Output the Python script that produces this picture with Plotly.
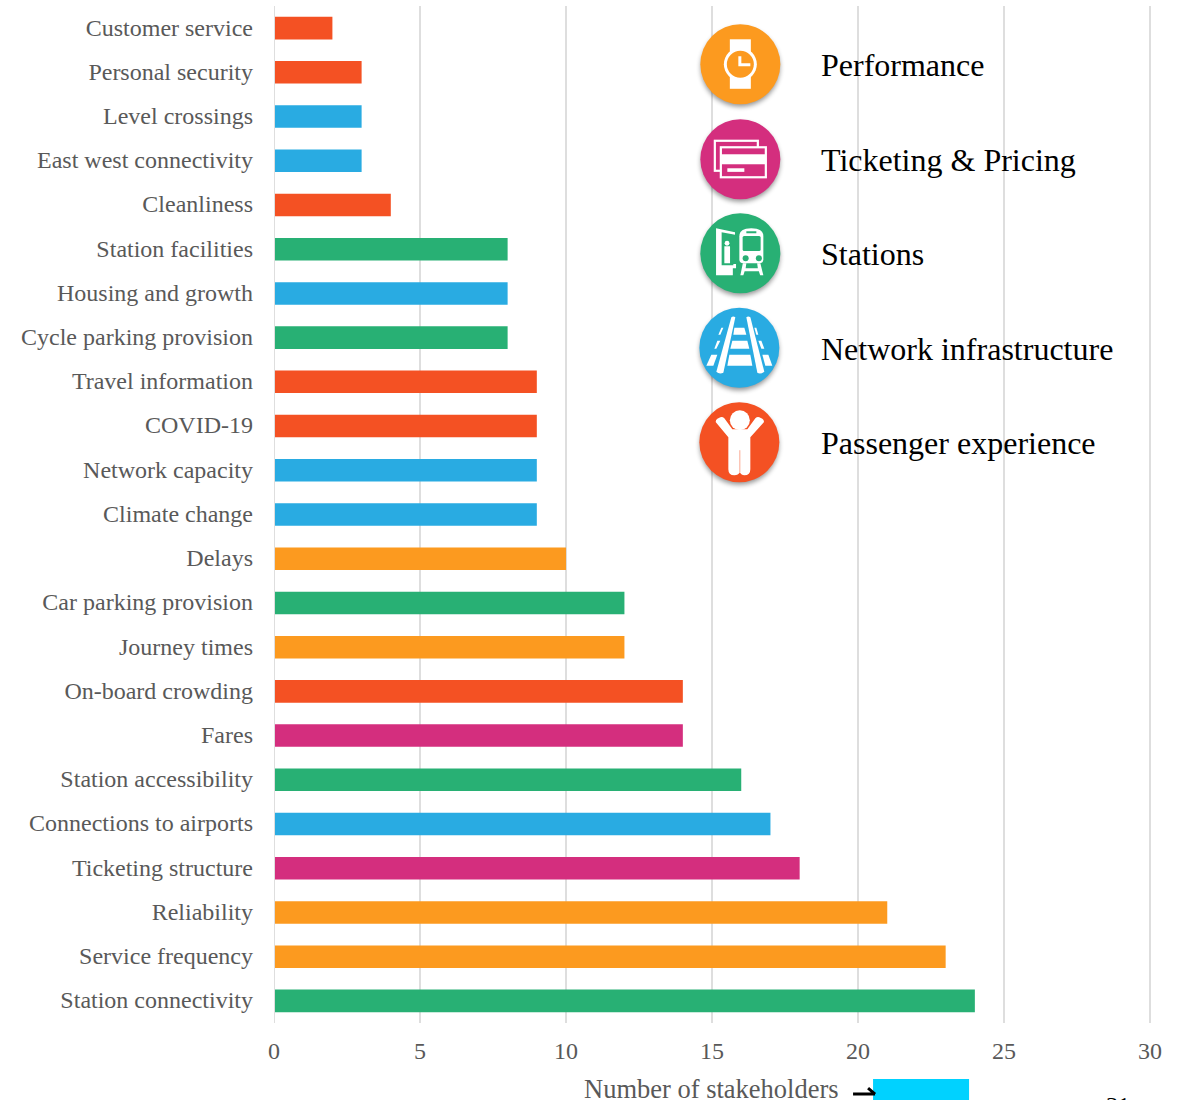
import base64
import plotly.graph_objects as go

categories = ["Customer service","Personal security","Level crossings","East west connectivity","Cleanliness",
    "Station facilities","Housing and growth","Cycle parking provision","Travel information","COVID-19",
    "Network capacity","Climate change","Delays","Car parking provision","Journey times","On-board crowding",
    "Fares","Station accessibility","Connections to airports","Ticketing structure","Reliability",
    "Service frequency","Station connectivity"]
values = [2,3,3,3,4,8,8,8,9,9,9,9,10,12,12,14,14,16,17,18,21,23,24]
groups = ["Passenger experience","Passenger experience","Network infrastructure","Network infrastructure",
    "Passenger experience","Stations","Network infrastructure","Stations","Passenger experience",
    "Passenger experience","Network infrastructure","Network infrastructure","Performance","Stations",
    "Performance","Passenger experience","Ticketing & Pricing","Stations","Network infrastructure",
    "Ticketing & Pricing","Performance","Performance","Stations"]
palette = {"Performance":"#FC9A1F","Ticketing & Pricing":"#D42E7E","Stations":"#28B074",
    "Network infrastructure":"#29ABE2","Passenger experience":"#F45123"}
legend_names = list(palette)
x_ticks = [0,5,10,15,20,25,30]
x_max = 30.1

W, H = 1183, 1100
L, R, T, B = 274, 274 + 29.2 * x_max, 5.7, 1022.9
SERIF = "Liberation Serif, Times New Roman, serif"
GREY = "#595959"
GRID = "#DEDEDE"

def px(x): return (x-L)/(R-L)
def py(y): return (B-y)/(B-T)

glyphs = {
"Performance": '''<rect x="-10.5" y="-25" width="21" height="49.5" fill="#fff"/><circle r="16.5" fill="#fff"/><circle r="13.5" fill="#FC9A1F"/>
<path d="M-2-8V2H10V-1H1V-8Z" fill="#fff"/>''',
"Ticketing & Pricing": '''<rect x="-25.5" y="-18.5" width="43" height="30" fill="none" stroke="#fff" stroke-width="2.2"/>
<rect x="-19.5" y="-12" width="45" height="30" fill="#D42E7E" stroke="#fff" stroke-width="2.2"/>
<rect x="-19.5" y="-5" width="45" height="10" fill="#fff"/><rect x="-13" y="9" width="17" height="3.6" fill="#fff"/>''',
"Stations": '''<path d="M-24.3-25L-5.3-21V-18.5L-18.7-21V12H-7V10.7H-4.3V15H-7.5V22H-24.3Z" fill="#fff"/>
<circle cx="-13.3" cy="-10" r="2.4" fill="#fff"/><path d="M-16-7H-10.3V10H-16Z" fill="#fff"/>
<path d="M-1-17Q-1-25 11-25Q23-25 23-17V6Q23 10 19 10H3Q-1 10-1 6Z" fill="#fff"/>
<rect x="2.3" y="-17.3" width="18" height="15" rx="1.5" fill="#28B074"/><rect x="6" y="-22" width="10" height="2" fill="#28B074"/>
<circle cx="5.3" cy="5" r="3" fill="#28B074"/><circle cx="18.5" cy="5" r="3" fill="#28B074"/>
<path d="M2.5 10H6L5.3 15H17.5L16.8 10H20L23 22H19.8L18.5 18H4.3L3 22H0Z" fill="#fff"/>''',
"Network infrastructure": '''<path d="M-8-30.5Q-6-32-4-30.5L-16 25Q-20 27-23 24Z" fill="#fff"/><path d="M7-30.5Q9-32 11-30.5L25 24Q21 27 18 25Z" fill="#fff"/>
<path d="M-5-20H5L7-13H-6Z" fill="#fff"/><path d="M-7-7H8L10 1H-9Z" fill="#fff"/><path d="M-10 7H11L13 18H-12Z" fill="#fff"/>
<path d="M-18-20L-16-20L-19-13H-21Z" fill="#fff"/><path d="M-22-7H-19L-23 1H-25Z" fill="#fff"/><path d="M-28 7H-22L-26 18H-33Z" fill="#fff"/>
<path d="M15-20L17-20L19-13H17Z" fill="#fff"/><path d="M19-7H22L25 1H22Z" fill="#fff"/><path d="M23 7H29L33 18H26Z" fill="#fff"/>''',
"Passenger experience": '''<circle cx="0.5" cy="-22" r="10" fill="#fff"/><path d="M-23.5-20Q-24-22-22-23.5L-19-25Q-17-26-15-24L-7-13H8L16-24Q18-26 20-25L23-23.5Q25-22 24.5-20L11-5V27Q11 33 5 33Q2 33 0.5 30Q-1 33-5 33Q-11 33-11 27V-5Z" fill="#fff"/>
<path d="M0.5 8V30" stroke="#F45123" stroke-width=".5"/>''',
}
icon_x = [740.3,740.3,740.3,739.3,739.3]
icon_y = [64,159,253,347.5,442]
label_x = [818.5,818.5,818.5,818.5,818.5]
label_y = [65,160,253.5,349,443]
images, annotations = [], []
for n, ix, iy, lx, ly in zip(legend_names, icon_x, icon_y, label_x, label_y):
    svg = f'''<svg xmlns="http://www.w3.org/2000/svg" width="100" height="100" viewBox="-50 -50 100 100">
<defs><filter id="s" x="-30%" y="-30%" width="160%" height="160%"><feGaussianBlur stdDeviation="2.4"/></filter></defs>
<circle cx="0" cy="3" r="39.5" fill="#000" opacity=".42" filter="url(#s)"/><circle r="40" fill="{palette[n]}"/>{glyphs[n]}</svg>'''
    uri = "data:image/svg+xml;base64," + base64.b64encode(svg.encode()).decode()
    images.append(dict(source=uri, xref="paper", yref="paper", xanchor="center", yanchor="middle",
        x=px(ix), y=py(iy), sizex=100/(R-L), sizey=100/(B-T), sizing="stretch", layer="above"))
    annotations.append(dict(text=n, xref="paper", yref="paper", x=px(lx), y=py(ly), xanchor="left",
        yanchor="middle", showarrow=False, font=dict(family=SERIF, size=32, color="#000")))

annotations.append(dict(text="Number of stakeholders", xref="paper", yref="paper", x=px(711.5), y=py(1089),
    xanchor="center", yanchor="middle", showarrow=False, font=dict(family=SERIF, size=26.5, color=GREY)))
annotations.append(dict(text="31", xref="paper", yref="paper", x=px(1118), y=py(1104.5), xanchor="center",
    yanchor="middle", showarrow=False, font=dict(family=SERIF, size=24, color="#000")))

fig = go.Figure(go.Bar(y=categories, x=values, orientation="h",
    marker=dict(color=[palette[g] for g in groups], line=dict(width=0))))
shapes = [
    dict(type="line", xref="x", yref="paper", x0=0, x1=0, y0=0, y1=1, layer="above",
         line=dict(color=GRID, width=2)),
    dict(type="rect", xref="paper", yref="paper", x0=px(873), x1=px(969), y0=py(1079), y1=py(1101),
         fillcolor="#00D2FF", line_width=0, layer="above"),
    dict(type="path", xref="paper", yref="paper", layer="above", line=dict(color="#000", width=3),
         path=f"M{px(853)},{py(1094)}L{px(875)},{py(1094)}M{px(868)},{py(1088)}L{px(875)},{py(1094)}"),
]
fig.update_layout(width=W, height=H, margin=dict(l=L, r=W-R, t=T, b=H-B, pad=0, autoexpand=False),
    paper_bgcolor="#fff", plot_bgcolor="#fff", showlegend=False, bargap=0.49,
    font=dict(family=SERIF, color=GREY, size=24), images=images, annotations=annotations, shapes=shapes,
    xaxis=dict(range=[0,x_max], tickvals=x_ticks, showgrid=True, gridcolor=GRID, gridwidth=2, zeroline=False,
        ticks="", showline=False, tickfont=dict(size=24, color=GREY), ticklabelstandoff=11),
    yaxis=dict(type="category", categoryorder="array", categoryarray=categories, autorange="reversed",
        showgrid=False, ticks="", showline=False, tickfont=dict(size=24, color=GREY), ticklabelstandoff=20,
        ticklabelshift=1))
fig.write_html("out.html", config=dict(displayModeBar=False),
    post_script="document.body.style.margin='0';document.body.style.overflow='hidden';")
